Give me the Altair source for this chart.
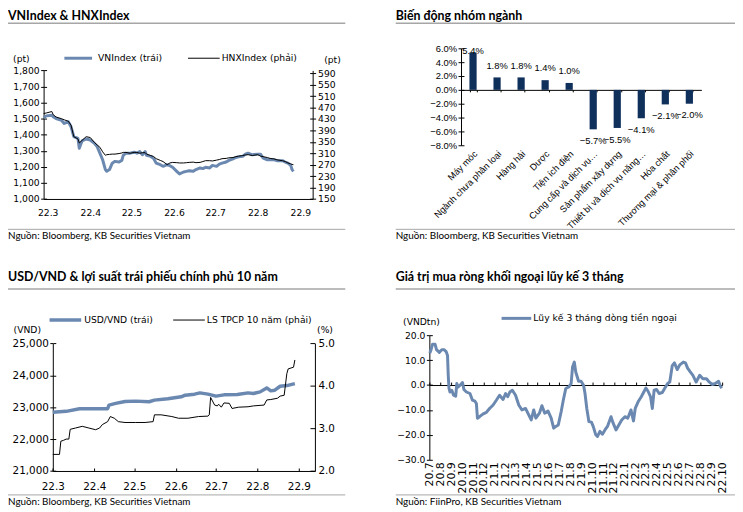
import altair as alt
import pandas as pd

W, H = 735, 504
BLUE = "#6A88B0"
NAVY = "#10305C"
GRAY = "#A6A6A6"
BLACK = "#000000"
F_TICK = "DejaVu Sans"
F_BAR = "Liberation Sans"
F_HEAD = "Lato"
LBL = "utcFormat(datum.value, '%y.%-m')"

# ---------------- Panel 1: VNIndex & HNXIndex ----------------
idx_dates = ["2022-02-26","2022-02-28","2022-03-04","2022-03-05","2022-03-07","2022-03-11","2022-03-13","2022-03-16","2022-03-18","2022-03-20",
"2022-03-23","2022-03-24","2022-03-26","2022-03-29","2022-04-01","2022-04-04","2022-04-06","2022-04-08","2022-04-10","2022-04-12",
"2022-04-13","2022-04-15","2022-04-17","2022-04-19","2022-04-22","2022-04-24","2022-04-25","2022-04-27","2022-04-30","2022-05-03",
"2022-05-05","2022-05-07","2022-05-09","2022-05-11","2022-05-12","2022-05-15","2022-05-17","2022-05-19","2022-05-22","2022-05-24",
"2022-05-27","2022-05-29","2022-05-31","2022-06-03","2022-06-05","2022-06-08","2022-06-10","2022-06-12","2022-06-15","2022-06-17",
"2022-06-20","2022-06-22","2022-06-24","2022-06-27","2022-06-29","2022-07-02","2022-07-04","2022-07-06","2022-07-09","2022-07-11",
"2022-07-14","2022-07-16","2022-07-18","2022-07-21","2022-07-23","2022-07-25","2022-07-28","2022-08-01","2022-08-03","2022-08-05",
"2022-08-08","2022-08-10","2022-08-13","2022-08-15","2022-08-19","2022-08-21","2022-08-23","2022-08-25","2022-08-26","2022-08-27"]
vn_index = [1505,1517,1521,1511,1500,1490,1470,1480,1449,1388,
1377,1316,1361,1373,1367,1346,1326,1285,1244,1183,
1172,1183,1223,1234,1230,1240,1271,1285,1285,1291,
1285,1295,1275,1295,1271,1265,1254,1223,1213,1203,
1213,1207,1197,1172,1156,1168,1172,1176,1172,1183,
1193,1189,1197,1193,1209,1203,1217,1223,1230,1240,
1250,1258,1262,1265,1279,1285,1275,1279,1279,1254,
1244,1244,1244,1238,1238,1230,1223,1209,1183,1172]
hnx_index = [449,451,456,445,437,431,427,422,408,368,
360,346,355,368,365,348,339,331,315,303,
305,306,307,307,309,311,313,313,310,313,
313,310,312,312,307,302,299,291,285,281,
270,276,278,277,276,276,277,278,279,277,
278,281,284,284,283,286,288,291,292,294,
295,298,300,302,304,305,302,305,300,298,
295,292,290,287,284,281,276,273,271,270]
vn_ticks = [1000, 1100, 1200, 1300, 1400, 1500, 1600, 1700, 1800]
hnx_ticks = [150, 190, 230, 270, 310, 350, 390, 430, 470, 510, 550, 590]
idx_months = ["2022-03-01","2022-04-01","2022-05-01","2022-06-01","2022-07-01","2022-08-01","2022-09-01"]
idx_domain = ["2022-02-26", "2022-09-10"]

# ---------------- Panel 2: sector performance ----------------
sectors = ["Máy móc", "Ngành chưa phân loại", "Hàng hải", "Dược", "Tiện ích điện",
           "Cung cấp và dịch vụ…", "Sản phẩm xây dựng", "Thiết bị và dịch vụ năng…",
           "Hóa chất", "Thương mại & phân phối"]
sector_chg = [5.4, 1.8, 1.8, 1.4, 1.0, -5.7, -5.5, -4.1, -2.1, -2.0]
pct_ticks = [-8, -6, -4, -2, 0, 2, 4, 6]

# ---------------- Panel 3: USD/VND & 10Y bond yield ----------------
usd_dates = ["2022-03-01","2022-03-11","2022-03-21","2022-03-31","2022-04-11","2022-04-12","2022-04-17","2022-04-24","2022-05-02","2022-05-12",
"2022-05-16","2022-05-26","2022-06-05","2022-06-08","2022-06-15","2022-06-19","2022-06-25","2022-07-01","2022-07-07","2022-07-17",
"2022-07-25","2022-07-29","2022-08-03","2022-08-08","2022-08-11","2022-08-14","2022-08-18","2022-08-23","2022-08-29"]
usd_vnd = [22839,22870,22953,22953,22953,23066,23118,23180,23190,23170,
23221,23263,23325,23377,23408,23449,23408,23346,23387,23397,
23449,23428,23480,23604,23511,23532,23656,23677,23739]
ls_dates = ["2022-03-01","2022-03-06","2022-03-07","2022-03-09","2022-03-11","2022-03-13","2022-03-14","2022-03-18","2022-03-23","2022-03-28",
"2022-04-02","2022-04-05","2022-04-07","2022-04-11","2022-04-13","2022-04-16","2022-04-19","2022-04-24","2022-05-02","2022-05-09",
"2022-05-15","2022-05-16","2022-05-21","2022-05-29","2022-06-03","2022-06-10","2022-06-18","2022-06-25","2022-06-26","2022-06-27",
"2022-06-30","2022-07-02","2022-07-03","2022-07-05","2022-07-07","2022-07-11","2022-07-13","2022-07-18","2022-07-25","2022-07-29",
"2022-08-06","2022-08-08","2022-08-11","2022-08-16","2022-08-18","2022-08-21","2022-08-23","2022-08-24","2022-08-28","2022-08-29"]
ls_tpcp = [2.39,2.39,2.70,2.72,2.75,2.75,2.98,3.01,3.05,3.01,
2.97,3.01,3.09,3.16,3.28,3.24,3.16,3.14,3.14,3.14,
3.16,3.32,3.32,3.28,3.24,3.24,3.28,3.29,3.32,3.73,
3.55,3.53,3.57,3.50,3.60,3.59,3.47,3.50,3.51,3.53,
3.55,3.67,3.68,3.71,3.76,3.78,4.29,4.40,4.44,4.61]
usd_ticks = [21000, 22000, 23000, 24000, 25000]
ls_ticks = [2, 3, 4, 5]
fx_months = ["2022-03-01","2022-04-01","2022-05-01","2022-06-01","2022-07-01","2022-08-01","2022-09-01"]
fx_domain = ["2022-03-01", "2022-09-13"]

# ---------------- Panel 4: foreign net buying, 3M cumulative ----------------
flow_dates = ["2020-07-02","2020-07-05","2020-07-10","2020-07-17","2020-07-21","2020-07-29","2020-08-05","2020-08-11","2020-08-17","2020-08-21","2020-08-23",
"2020-08-25","2020-08-28","2020-09-02","2020-09-07","2020-09-13","2020-09-16","2020-09-20","2020-09-27","2020-10-02","2020-10-06",
"2020-10-13","2020-10-23","2020-10-30","2020-11-06","2020-11-10","2020-11-13","2020-11-19","2020-11-28","2020-12-08","2020-12-17",
"2020-12-27","2021-01-05","2021-01-14","2021-01-24","2021-01-31","2021-02-06","2021-02-12","2021-02-19","2021-02-28","2021-03-09",
"2021-03-18","2021-03-28","2021-04-06","2021-04-13","2021-04-20","2021-04-26","2021-05-06","2021-05-13","2021-05-21","2021-05-30",
"2021-06-08","2021-06-15","2021-06-21","2021-06-28","2021-07-06","2021-07-12","2021-07-19","2021-07-27","2021-08-03","2021-08-07",
"2021-08-12","2021-08-16","2021-08-24","2021-08-31","2021-09-07","2021-09-11","2021-09-16","2021-09-22","2021-09-29","2021-10-04",
"2021-10-11","2021-10-16","2021-10-23","2021-10-30","2021-11-06","2021-11-13","2021-11-23","2021-11-29","2021-12-07","2021-12-15",
"2021-12-23","2022-01-01","2022-01-09","2022-01-18","2022-01-25","2022-01-30","2022-02-08","2022-02-16","2022-02-23","2022-03-01",
"2022-03-07","2022-03-14","2022-03-19","2022-03-24","2022-03-31","2022-04-07","2022-04-16","2022-04-25","2022-05-01","2022-05-07",
"2022-05-14","2022-05-20","2022-05-28","2022-06-04","2022-06-14","2022-06-20","2022-06-26","2022-07-03","2022-07-11","2022-07-20",
"2022-07-30","2022-08-08","2022-08-18","2022-08-24","2022-09-03","2022-09-12","2022-09-21","2022-09-26","2022-09-30"]
flow_3m = [12.8,13.8,16.4,16.4,14.2,13.1,14.2,14.2,13.4,11.8,3.9,
-1.2,-2.8,-2.1,-4.1,-4.5,0.6,-0.8,0.2,1.0,-1.8,
-2.8,-3.4,-6.1,-6.5,-7.4,-13.3,-12.7,-11.7,-11.0,-9.4,
-8.0,-6.1,-4.1,-5.8,-3.4,-4.7,-2.8,-2.1,-4.1,-8.0,
-10.0,-9.4,-12.0,-14.0,-10.0,-13.3,-11.3,-8.3,-11.3,-10.4,
-13.3,-17.3,-16.6,-16.0,-10.7,-6.1,-1.4,-0.8,0.6,7.2,
9.2,5.2,1.5,1.5,-0.1,-3.4,-9.4,-14.7,-14.9,-16.6,
-19.9,-20.6,-18.6,-19.7,-18.0,-16.6,-12.7,-15.3,-18.0,-16.0,
-14.0,-12.7,-13.3,-10.0,-14.4,-9.4,-6.5,-4.7,-2.8,-1.2,
-2.5,-4.7,-9.4,-2.1,-1.8,-3.4,-3.0,-0.8,0.6,1.2,
7.8,8.9,6.2,8.1,9.2,8.9,6.8,5.4,3.9,1.2,
3.9,2.5,2.5,1.5,0.2,0.6,1.5,-0.4,-1.2]
flow_ticks = [-30, -20, -10, 0, 10, 20]
flow_months = [d.strftime("%Y-%m-%d") for d in pd.date_range("2020-07-01", "2022-10-01", freq="MS")]
flow_domain = ["2020-07-01", "2022-10-01"]

# ---------------- texts ----------------
titles = ["VNIndex & HNXIndex", "Biến động nhóm ngành",
          "USD/VND & lợi suất trái phiếu chính phủ 10 năm", "Giá trị mua ròng khối ngoại lũy kế 3 tháng"]
sources = ["Nguồn: Bloomberg, KB Securities Vietnam", "Nguồn: Bloomberg, KB Securities Vietnam",
           "Nguồn: Bloomberg, KB Securities Vietnam", "Nguồn: FiinPro, KB Securities Vietnam"]


# ---------------- helpers ----------------
def dt(s):
    y, m, d = (int(p) for p in s.split("-"))
    return alt.DateTime(year=y, month=m, date=d, utc=True)


def tscale(dom, rng):
    return alt.Scale(type="utc", domain=[dt(dom[0]), dt(dom[1])], range=rng, nice=False)


def qscale(dom, rng):
    return alt.Scale(domain=dom, range=rng, nice=False, zero=False)


def axis(orient, offset, **kw):
    a = dict(orient=orient, offset=offset, title=None, grid=False, domainColor=BLACK, tickColor=BLACK,
             labelColor=BLACK, labelOverlap=False, labelFlush=False, labelBound=False,
             domainWidth=1, tickWidth=1)
    a.update(kw)
    return alt.Axis(**a)


def tick_axis(orient, offset, size, values, **kw):
    return axis(orient, offset, domain=False, labels=False, ticks=True, tickSize=size, values=values, **kw)


def text(s, x, y, size, font, weight="normal", align="left", baseline="middle"):
    return alt.Chart(alt.Data(values=[{"t": s}])).mark_text(
        align=align, baseline=baseline, fontSize=size, font=font, fontWeight=weight, color=BLACK
    ).encode(x=alt.value(x), y=alt.value(y), text="t:N")


def hrule(x1, x2, y, color, width):
    return alt.Chart(alt.Data(values=[{}])).mark_rule(color=color, strokeWidth=width).encode(
        x=alt.value(x1), x2=alt.value(x2), y=alt.value(y))


THOUSANDS = "format(datum.value, ',.0f')"
layers = []

# ======== Panel 1 ========
df1 = pd.DataFrame({"date": idx_dates, "vn": vn_index, "hnx": hnx_index})
x1 = tscale(idx_domain, [36, 308])
yl1 = qscale([1000, 1800], [190.3, 60.3])
yr1 = qscale([150, 600], [190.3, 60.3])
m1 = [dt(s) for s in idx_months]
layers.append(alt.Chart(df1).mark_line(color=BLUE, strokeWidth=3, strokeJoin="round").encode(
    x=alt.X("date:T", scale=x1, axis=axis("bottom", -(H - 190.3), values=m1, ticks=False, tickSize=0,
                                          labelExpr=LBL, labelFont=F_TICK, labelFontSize=9.3, labelPadding=10)),
    y=alt.Y("vn:Q", scale=yl1, axis=axis("left", -36, values=vn_ticks, labelExpr=THOUSANDS, tickSize=3,
                                         labelFont=F_TICK, labelFontSize=9.3, labelPadding=1.5))))
layers.append(alt.Chart(df1).mark_point(opacity=0).encode(
    y=alt.Y("vn:Q", scale=yl1, axis=tick_axis("left", -39, 3, vn_ticks))))
layers.append(alt.Chart(df1).mark_line(color=BLACK, strokeWidth=1).encode(
    x=alt.X("date:T", scale=x1, axis=None),
    y=alt.Y("hnx:Q", scale=yr1, axis=axis("right", -(W - 308), values=hnx_ticks, tickSize=3,
                                          labelFont=F_TICK, labelFontSize=9.3, labelPadding=2))))
layers.append(alt.Chart(df1).mark_point(opacity=0).encode(
    y=alt.Y("hnx:Q", scale=yr1, axis=tick_axis("right", -(W - 305), 3, hnx_ticks))))
layers += [
    hrule(57, 85, 48, BLUE, 3), text("VNIndex (trái)", 91, 48, 9.3, F_TICK),
    hrule(182, 214, 48, BLACK, 1), text("HNXIndex (phải)", 216, 48, 9.3, F_TICK),
    text("(pt)", 13.5, 49, 9.3, F_TICK, align="center"),
    text("(pt)", 328, 50, 9.3, F_TICK, align="center"),
]

# ======== Panel 2 ========
df2 = pd.DataFrame({"sector": sectors, "v": sector_chg})
xb = alt.Scale(domain=sectors, range=[458, 701], paddingInner=0.7, paddingOuter=0.35)
yb = qscale([-8, 6], [136, 38])
layers.append(alt.Chart(df2).mark_bar(color=NAVY).encode(
    x=alt.X("sector:N", scale=xb, axis=axis("bottom", -(H - 136), domain=False, ticks=False, tickSize=0,
                                            labelAngle=-45, labelFont=F_BAR, labelFontSize=9.3, labelPadding=4)),
    y=alt.Y("v:Q", scale=yb, axis=axis("left", -458, values=pct_ticks, tickSize=3,
                                      labelExpr="format(datum.value, '.1f') + '%'",
                                      labelFont=F_BAR, labelFontSize=9.5, labelPadding=1.5))))
layers.append(alt.Chart(df2).mark_point(opacity=0).encode(
    x=alt.X("sector:N", scale=xb, axis=axis("bottom", -(H - 80), labels=False, ticks=True, tickSize=2,
                                            tickBand="extent"))))
layers.append(alt.Chart(df2).mark_point(opacity=0).encode(
    y=alt.Y("v:Q", scale=yb, axis=tick_axis("left", -461, 3, pct_ticks))))
layers.append(alt.Chart(df2).transform_calculate(
    ly="datum.v > 0 ? min(datum.v + 1.7, 5.6) : datum.v - 1.7",
    lbl="format(datum.v, '.1f') + '%'").mark_text(
    font=F_BAR, fontSize=9.5, color=BLACK, align="center", baseline="middle").encode(
    x=alt.X("sector:N", scale=xb, axis=None),
    y=alt.Y("ly:Q", scale=yb, axis=None),
    text="lbl:N"))

# ======== Panel 3 ========
df3a = pd.DataFrame({"date": usd_dates, "usd": usd_vnd})
df3b = pd.DataFrame({"date": ls_dates, "ls": ls_tpcp})
x3 = tscale(fx_domain, [45.3, 310.3])
yl3 = qscale([21000, 25000], [465.3, 336.3])
yr3 = qscale([2, 5], [465.3, 336.3])
m3 = [dt(s) for s in fx_months]
layers.append(alt.Chart(df3a).mark_line(color=BLUE, strokeWidth=3.5, strokeJoin="round").encode(
    x=alt.X("date:T", scale=x3, axis=axis("bottom", -(H - 465.3), values=m3, ticks=False, tickSize=0,
                                          labelExpr=LBL, labelFont=F_TICK, labelFontSize=10.5, labelPadding=11)),
    y=alt.Y("usd:Q", scale=yl3, axis=axis("left", -45.3, values=usd_ticks, labelExpr=THOUSANDS, tickSize=3,
                                          labelFont=F_TICK, labelFontSize=10.5, labelPadding=1.5))))
layers.append(alt.Chart(df3a).mark_point(opacity=0).encode(
    x=alt.X("date:T", scale=x3, axis=tick_axis("bottom", -(H - 465.3) - 3, 3, m3))))
layers.append(alt.Chart(df3a).mark_point(opacity=0).encode(
    y=alt.Y("usd:Q", scale=yl3, axis=tick_axis("left", -48.3, 3, usd_ticks))))
layers.append(alt.Chart(df3b).mark_line(color=BLACK, strokeWidth=1).encode(
    x=alt.X("date:T", scale=x3, axis=None),
    y=alt.Y("ls:Q", scale=yr3, axis=axis("right", -(W - 310.3), values=ls_ticks,
                                         labelExpr="format(datum.value, '.1f')",
                                         ticks=False, tickSize=0, labelFont=F_TICK, labelFontSize=10.5,
                                         labelPadding=3))))
layers.append(alt.Chart(df3b).mark_point(opacity=0).encode(
    y=alt.Y("ls:Q", scale=yr3, axis=tick_axis("right", -(W - 305.3), 5, ls_ticks))))
layers += [
    hrule(42, 74, 312.7, BLUE, 3.5), text("USD/VND (trái)", 77, 312.7, 9.3, F_TICK),
    hrule(167, 199, 312.7, BLACK, 1), text("LS TPCP 10 năm (phải)", 201, 312.7, 9.3, F_TICK),
    text("(VND)", 19.5, 323, 9.3, F_TICK, align="center"),
    text("(%)", 320.5, 323, 9.3, F_TICK, align="center"),
]

# ======== Panel 4 ========
df4 = pd.DataFrame({"date": flow_dates, "f": flow_3m})
x4 = tscale(flow_domain, [426, 722])
y4 = qscale([-30, 20], [454, 328])
m4 = [dt(s) for s in flow_months]
layers.append(alt.Chart(df4).mark_line(color=BLUE, strokeWidth=3, strokeJoin="round").encode(
    x=alt.X("date:T", scale=x4, axis=axis("bottom", -(H - 454), values=m4, ticks=False, tickSize=0, domain=False,
                                          labelAngle=-90, labelExpr=LBL, labelFont=F_TICK, labelFontSize=11,
                                          labelPadding=2)),
    y=alt.Y("f:Q", scale=y4, axis=axis("left", -426, values=flow_ticks,
                                       labelExpr="format(datum.value, '.1f')", tickSize=3,
                                       labelFont=F_TICK, labelFontSize=9.3, labelPadding=1.5))))
layers.append(alt.Chart(df4).mark_point(opacity=0).encode(
    x=alt.X("date:T", scale=x4, axis=axis("top", -378.4, values=m4, labels=False, ticks=True, tickSize=3))))
layers.append(alt.Chart(df4).mark_point(opacity=0).encode(
    y=alt.Y("f:Q", scale=y4, axis=tick_axis("left", -429, 3, flow_ticks))))
layers += [
    hrule(499, 529, 311, BLUE, 3), text("Lũy kế 3 tháng dòng tiền ngoại", 531, 311, 9.3, F_TICK),
    text("(VNDtn)", 418, 315, 9.3, F_TICK, align="center"),
]

# ======== headers / footers ========
for i, (tx, x0, x1_) in enumerate([(0, 0, 341), (392, 392, 735)] * 2):
    ty = 9 if i < 2 else 273.7
    ry = 12.7 if i < 2 else 281.3
    sy = 221 if i < 2 else 489.5
    layers += [
        text(titles[i], tx, ty, 12.5, F_HEAD, weight="bold", baseline="alphabetic"),
        hrule(x0, x1_, ry, GRAY, 1.5),
        hrule(x0, x1_, sy, GRAY, 1),
        text(sources[i], tx, sy + 6.8, 10, F_HEAD),
    ]

chart = alt.layer(*layers).resolve_scale(
    x="independent", y="independent"
).properties(
    width=W, height=H, padding=0, autosize=alt.AutoSizeParams(type="none")
).configure_view(stroke=None).configure_axis(grid=False)

chart.save("out.html", embed_options={"renderer": "svg", "actions": False})
